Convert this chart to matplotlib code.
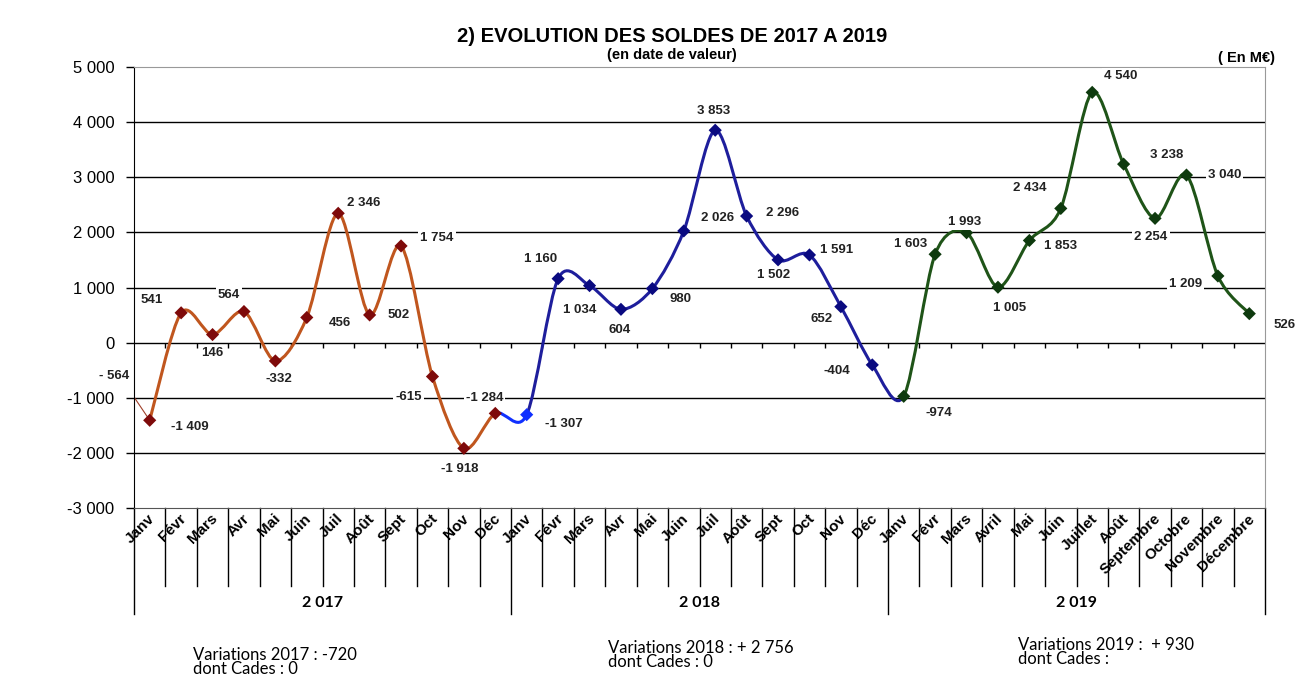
import numpy as np
import matplotlib
matplotlib.use('Agg')
from matplotlib import pyplot as plt
from matplotlib.path import Path
from matplotlib.patches import PathPatch
import matplotlib.transforms as mtransforms

plt.rcParams['font.family'] = ['Liberation Sans', 'DejaVu Sans']

# ---- data (M EUR) ----
months_short = ['Janv', 'Févr', 'Mars', 'Avr', 'Mai', 'Juin', 'Juil', 'Août',
                'Sept', 'Oct', 'Nov', 'Déc']
months_long = ['Janv', 'Févr', 'Mars', 'Avril', 'Mai', 'Juin', 'Juillet', 'Août',
               'Septembre', 'Octobre', 'Novembre', 'Décembre']
years = ['2 017', '2 018', '2 019']

dec_2016 = -564
soldes_2017 = [-1409, 541, 146, 564, -332, 456, 2346, 502, 1754, -615, -1918, -1284]
soldes_2018 = [-1307, 1160, 1034, 604, 980, 2026, 3853, 2296, 1502, 1591, 652, -404]
soldes_2019 = [-974, 1603, 1993, 1005, 1853, 2434, 4540, 3238, 2254, 3040, 1209, 526]

variations = ['Variations 2017 : -720\ndont Cades : 0',
              'Variations 2018 : + 2 756\ndont Cades : 0',
              'Variations 2019 :  + 930\ndont Cades :']

# label offsets in screen pixels (dx right, dy down)
label_offsets = [(40, 7), (-29, -13), (0, 18), (-15, -17), (3, 18), (33, 6),
                 (25, -10), (29, 0), (36, -8), (-24, 20), (-4, 21), (-11, -15),
                 (37, 9), (-18, -20), (-10, 24), (-1, 21), (28, 10), (34, -13),
                 (-2, -19), (36, -3), (-4, 15), (27, -5), (-19, 12), (-35, 6),
                 (35, 17), (-24, -10), (-2, -11), (12, 21), (31, 6), (-31, -20),
                 (28, -16), (43, -9), (-4, 19), (38, 0), (-32, 8), (35, 11)]

line_colors = ['#C0561E', '#1E1E9C', '#1F5418']
marker_colors = ['#7E0A0A', '#0A0A80', '#0E3A0E']


def fmt(v):
    return '{:,}'.format(v).replace(',', ' ')


def smooth_segments(x, y, k=0.15):
    # excel-like bezier smoothing, one cubic per segment
    segs = []
    n = len(x)
    for i in range(n - 1):
        p0 = np.array([x[max(i - 1, 0)], y[max(i - 1, 0)]])
        p1 = np.array([x[i], y[i]])
        p2 = np.array([x[i + 1], y[i + 1]])
        p3 = np.array([x[min(i + 2, n - 1)], y[min(i + 2, n - 1)]])
        c1 = p1 + (p2 - p0) * k
        c2 = p2 - (p3 - p1) * k
        segs.append([p1, c1, c2, p2])
    return segs


values = soldes_2017 + soldes_2018 + soldes_2019
xs = np.arange(len(values))

fig = plt.figure(figsize=(12.95, 6.77), dpi=100)
ax = fig.add_axes([134 / 1295, 1 - 508 / 677, 1131 / 1295, 441 / 677])

ax.set_xlim(-0.5, 35.5)
ax.set_ylim(-3000, 5000)
ax.set_yticks(np.arange(-3000, 5001, 1000))
ax.set_yticklabels([fmt(v) for v in range(-3000, 5001, 1000)], fontsize=12)
ax.set_xticks([])
ax.tick_params(axis='y', direction='out', length=6, width=1, pad=8)
for v in range(-2000, 5000, 1000):
    ax.axhline(v, color='black', lw=1, zorder=1)
ax.spines['left'].set_color('black')
ax.spines['bottom'].set_color('#555555')
ax.spines['top'].set_color('#999999')
ax.spines['right'].set_color('#999999')

# small ticks on the zero line
ax.vlines(np.arange(0.5, 35.5, 1), -90, 0, color='black', lw=1, zorder=1)

# thin link from december 2016
ax.plot([-1, 0], [dec_2016, soldes_2017[0]], color='#A0402A', lw=0.8, zorder=2)

# smoothed curve, coloured per segment
segs = smooth_segments(xs, values)
for i, s in enumerate(segs):
    if i < 11:
        c = line_colors[0]
    elif i == 11:
        c = '#1030FF'
    elif i < 24:
        c = line_colors[1]
    else:
        c = line_colors[2]
    path = Path(s, [Path.MOVETO, Path.CURVE4, Path.CURVE4, Path.CURVE4])
    ax.add_patch(PathPatch(path, fc='none', ec=c, lw=2.2, zorder=3, capstyle='round'))

# markers
mcols = [marker_colors[0]] * 12 + ['#1030FF'] + [marker_colors[1]] * 11 + [marker_colors[2]] * 12
ax.scatter(xs, values, marker='D', s=45, c=mcols, zorder=4, linewidths=0)

# data labels
for i, v in enumerate(values):
    dx, dy = label_offsets[i]
    ax.annotate(fmt(v), (xs[i], v), xytext=(dx, -dy), textcoords='offset pixels',
                ha='center', va='center', fontsize=9.5, fontweight='bold', color='#222222',
                bbox=dict(boxstyle='square,pad=0.15', fc='white', ec='none'), zorder=5)
ax.annotate(fmt(dec_2016).replace('-', '- '), (-0.5, dec_2016), xytext=(-20, -2),
            textcoords='offset pixels', ha='center', va='center', fontsize=9.5,
            fontweight='bold', color='#222222', annotation_clip=False)

# category axis below the plot
trans = mtransforms.blended_transform_factory(ax.transData, ax.transAxes)
labels = months_short + months_short + months_long
for i, lab in enumerate(labels):
    ax.text(i + 0.25, -0.008, lab, transform=trans, rotation=45, ha='right', va='top',
            fontsize=11, fontweight='bold')
for b in np.arange(-0.5, 36, 1):
    low = -0.24 if (b + 0.5) % 12 == 0 else -0.177
    ax.plot([b, b], [0, low], transform=trans, color='black', lw=1, clip_on=False)
for k, yr in enumerate(years):
    ax.text(12 * k + 5.5, -0.216, yr, transform=trans, ha='center', va='center',
            fontsize=11.5, fontweight='bold', family=['Lato', 'DejaVu Sans'])

# titles
fig.text(672 / 1295, 1 - 36 / 677, '2) EVOLUTION DES SOLDES DE 2017 A 2019',
         ha='center', va='center', fontsize=14.5, fontweight='bold')
fig.text(672 / 1295, 1 - 55 / 677, '(en date de valeur)', ha='center', va='center',
         fontsize=10.5, fontweight='bold')
fig.text(1246 / 1295, 1 - 58 / 677, '( En M€)', ha='center', va='center',
         fontsize=10.5, fontweight='bold')

for txt, (x0, y0) in zip(variations, [(193, 662), (608, 655), (1018, 652)]):
    fig.text(x0 / 1295, 1 - y0 / 677, txt, ha='left', va='center', fontsize=12,
             family=['Lato', 'DejaVu Sans'], linespacing=0.9)

fig.savefig('out.png', dpi=100)
